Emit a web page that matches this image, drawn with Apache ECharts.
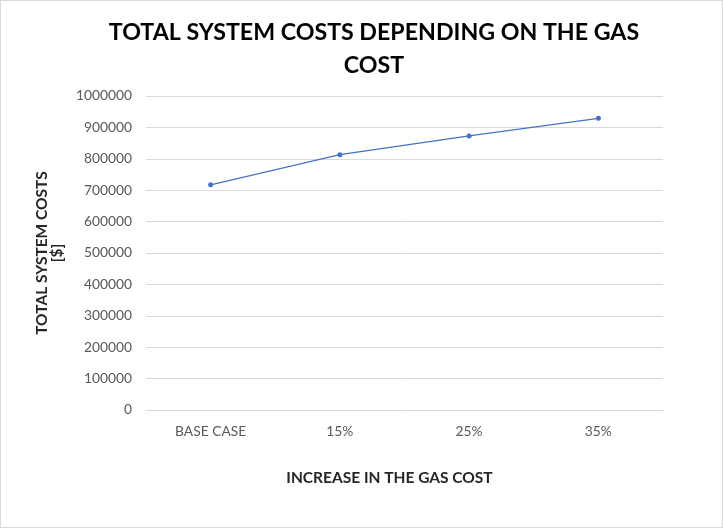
<!DOCTYPE html>
<html>
<head>
<meta charset="utf-8">
<script src="https://cdn.jsdelivr.net/npm/echarts@6/dist/echarts.min.js"></script>
<style>
  html, body { margin: 0; padding: 0; background: #fff; }
  #chart { width: 721px; height: 526px; border: 1px solid #d9d9d9; }
</style>
</head>
<body>
<div id="chart"></div>
<script>
// Total system cost for each gas-price scenario
const categories = ['BASE CASE', '15%', '25%', '35%'];
const totalCosts = [717000, 813000, 873000, 929000];
const yTicks = { min: 0, max: 1000000, interval: 100000 };

const chart = echarts.init(document.getElementById('chart'));
const font = 'Lato, "Open Sans", sans-serif';

chart.setOption({
  animation: false,
  title: {
    text: 'TOTAL SYSTEM COSTS DEPENDING ON THE GAS\nCOST',
    left: 368,
    textAlign: 'center',
    top: 10,
    textStyle: {
      fontFamily: font,
      fontSize: 23.2,
      fontWeight: 'bold',
      color: '#000',
      lineHeight: 33
    }
  },
  grid: { left: 145, right: 59, top: 95, bottom: 117 },
  xAxis: {
    type: 'category',
    data: categories,
    boundaryGap: true,
    name: 'INCREASE IN THE GAS COST',
    nameLocation: 'middle',
    nameGap: 60,
    nameTextStyle: {
      fontFamily: font, fontSize: 15.5, fontWeight: 'bold', color: '#262626',
      padding: [0, 30, 0, 0]
    },
    axisLine: { show: true, lineStyle: { color: '#d9d9d9' } },
    axisTick: { show: false },
    axisLabel: { fontFamily: font, fontSize: 13.8, color: '#595959', margin: 15 }
  },
  yAxis: {
    type: 'value',
    min: yTicks.min,
    max: yTicks.max,
    interval: yTicks.interval,
    name: 'TOTAL SYSTEM COSTS\n[$]',
    nameLocation: 'middle',
    nameGap: 81,
    nameRotate: 90,
    nameTextStyle: { fontFamily: font, fontSize: 15.5, fontWeight: 'bold', color: '#262626', lineHeight: 15 },
    axisLine: { show: false },
    axisTick: { show: false },
    axisLabel: {
      fontFamily: font, fontSize: 13.8, color: '#595959', margin: 14,
      formatter: v => String(v)
    },
    splitLine: { lineStyle: { color: '#d9d9d9' } }
  },
  series: [{
    type: 'line',
    data: totalCosts,
    symbol: 'circle',
    symbolSize: 5,
    lineStyle: { color: '#4472c4', width: 1.25 },
    itemStyle: { color: '#4472c4' }
  }]
});
</script>
</body>
</html>
